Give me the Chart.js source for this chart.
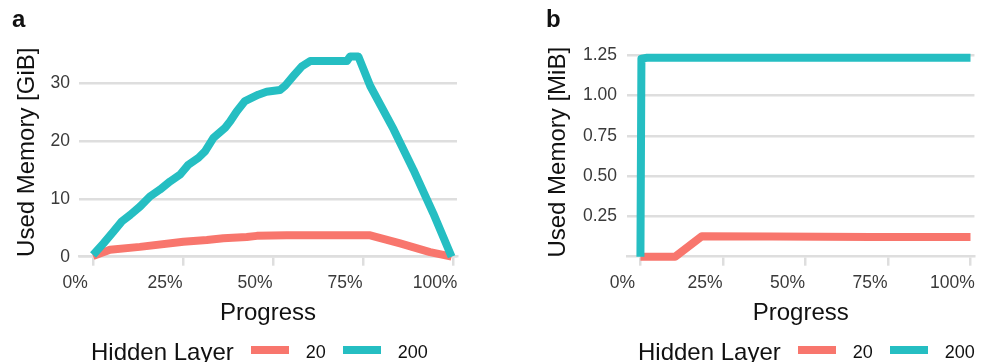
<!DOCTYPE html>
<html>
<head>
<meta charset="utf-8">
<script src="https://cdn.jsdelivr.net/npm/chart.js@4.4.1/dist/chart.umd.min.js"></script>
<style>
  html, body { margin: 0; padding: 0; background: #fff; }
  body { width: 1000px; height: 362px; position: relative; overflow: hidden; font-family: "Liberation Sans", Arial, sans-serif; }
  canvas { position: absolute; top: 0; }
  .legend { position: absolute; top: 339.7px; display: flex; align-items: flex-start; white-space: nowrap; color: #111; }
  .legend .ttl { font-size: 24px; line-height: 24px; margin-right: 17px; }
  .legend .sw { display: inline-block; width: 38px; height: 8px; margin-top: 6.3px; margin-right: 17px; }
  .legend .lb { font-size: 18px; line-height: 18px; margin-top: 3.1px; margin-right: 17px; }
</style>
</head>
<body>
<canvas id="ca" width="500" height="362" style="left:0px"></canvas>
<canvas id="cb" width="500" height="362" style="left:500px"></canvas>
<div class="legend" id="la" style="left:91px"></div>
<div class="legend" id="lb" style="left:638px"></div>
<script>
// ---------- data ----------
const seriesNames = ['20', '200'];
const legendTitle = 'Hidden Layer';
const xTickValues = [0, 25, 50, 75, 100];
const yTicksA = [0, 10, 20, 30];
const yTicksB = [0.25, 0.5, 0.75, 1.0, 1.25];

// Panel a: Used Memory [GiB]
const progA20  = [0, 4.7, 13, 25.1, 31.6, 36.2, 42.7, 45.5, 53.8, 77, 78.8, 85.3, 93.6, 99.6];
const memA20   = [0.1, 1.2, 1.7, 2.6, 2.9, 3.2, 3.4, 3.6, 3.7, 3.7, 3.4, 2.3, 0.8, 0];
const progA200 = [0, 2.9, 5.6, 8, 10.3, 13.1, 15.8, 18.6, 21.4, 24.2, 26.5, 29.3, 31.1, 33.4, 36.7, 38.1, 39.9, 42.2, 45.9, 48.2, 51.9, 53.3, 55.6, 58, 60.3, 70.5, 71.4, 73.7, 77, 83.5, 89, 94.5, 99.6];
const memA200  = [0.3, 2.3, 4.3, 6.1, 7.2, 8.7, 10.4, 11.6, 13.0, 14.2, 15.9, 17.1, 18.2, 20.5, 22.3, 23.4, 25.1, 26.9, 28.0, 28.5, 28.8, 29.5, 31.2, 32.9, 33.8, 33.8, 34.6, 34.6, 29.5, 22.0, 15.0, 7.5, 0];

// Panel b: Used Memory [MiB]
const progB20  = [0, 10.5, 18.6, 40, 70, 100];
const memB20   = [0, 0, 0.127, 0.126, 0.122, 0.122];
const progB200 = [0, 0.3, 2, 50, 100];
const memB200  = [0, 1.23, 1.235, 1.235, 1.235];

// ---------- style ----------
const colors = ['#F8766D', '#25BEC2'];
const gridColor = '#DEDEDE';
const tickColor = '#3a3a3a';
const titleColor = '#111';
Chart.defaults.font.family = '"Liberation Sans", Arial, sans-serif';

function pts(xs, ys) { return xs.map((x, i) => ({ x: x, y: ys[i] })); }

function makeChart(id, cfg) {
  const datasets = [
    { label: seriesNames[0], data: pts(cfg.x20, cfg.y20), borderColor: colors[0], order: 1 },
    { label: seriesNames[1], data: pts(cfg.x200, cfg.y200), borderColor: colors[1], order: 0 }
  ].map(d => Object.assign(d, {
    borderWidth: 8, pointRadius: 0, tension: 0, fill: false, clip: false,
    borderJoinStyle: 'round', borderCapStyle: 'butt'
  }));
  return new Chart(document.getElementById(id), {
    type: 'line',
    data: { datasets },
    options: {
      responsive: false, animation: false, events: [],
      layout: { padding: { left: cfg.padLeft, right: cfg.padRight, top: 0, bottom: 25.3 } },
      plugins: {
        legend: { display: false }, tooltip: { enabled: false },
        title: { display: true, text: cfg.panel, align: 'start', color: titleColor,
                 font: { size: 24, weight: 'bold' }, padding: { top: 6, bottom: 13 } }
      },
      scales: {
        x: {
          type: 'linear', min: cfg.xmin, max: cfg.xmax,
          afterBuildTicks: s => { s.ticks = xTickValues.map(v => ({ value: v })); },
          afterFit: s => { s.height = 80; },
          ticks: { callback: v => v + '%', labelOffset: -18, padding: 7, autoSkip: false, maxRotation: 0,
                   color: tickColor, font: { size: 17.5 } },
          grid: { drawOnChartArea: false, drawTicks: true, tickLength: 9, color: gridColor, lineWidth: 2.5 },
          border: { display: true, color: gridColor, width: 2.5 },
          title: { display: true, text: 'Progress', color: titleColor, font: { size: 24 }, padding: { top: 0, bottom: 9 } }
        },
        y: {
          type: 'linear', min: 0, max: cfg.ymax,
          afterBuildTicks: s => { s.ticks = cfg.yTicks.map(v => ({ value: v })); },
          afterFit: s => { s.width = cfg.yWidth; },
          ticks: { callback: cfg.yFmt, padding: cfg.yPad, color: tickColor, font: { size: 17.5 } },
          grid: { drawTicks: false, color: gridColor, lineWidth: 2.5 },
          border: { display: false },
          title: { display: true, text: cfg.yTitle, color: titleColor, font: { size: 24 }, padding: { top: cfg.yTitlePad, bottom: 0 } }
        }
      }
    }
  });
}

makeChart('ca', {
  panel: 'a', x20: progA20, y20: memA20, x200: progA200, y200: memA200,
  xmin: -3.9, xmax: 101.1, ymax: 36.1, yTicks: yTicksA, yFmt: v => String(v),
  padLeft: 12, padRight: 43, yWidth: 67, yPad: 9, yTitle: 'Used Memory [GiB]', yTitlePad: 0.6
});
makeChart('cb', {
  panel: 'b', x20: progB20, y20: memB20, x200: progB200, y200: memB200,
  xmin: -4.07, xmax: 101.2, ymax: 1.297, yTicks: yTicksB, yFmt: v => v.toFixed(2),
  padLeft: 46, padRight: 11, yWidth: 81, yPad: 10, yTitle: 'Used Memory [MiB]', yTitlePad: -2.4
});

function buildLegend(id) {
  const el = document.getElementById(id);
  const t = document.createElement('span'); t.className = 'ttl'; t.textContent = legendTitle; el.appendChild(t);
  seriesNames.forEach((n, i) => {
    const s = document.createElement('span'); s.className = 'sw'; s.style.background = colors[i]; el.appendChild(s);
    const l = document.createElement('span'); l.className = 'lb'; l.textContent = n; el.appendChild(l);
  });
}
buildLegend('la');
buildLegend('lb');
</script>
</body>
</html>
